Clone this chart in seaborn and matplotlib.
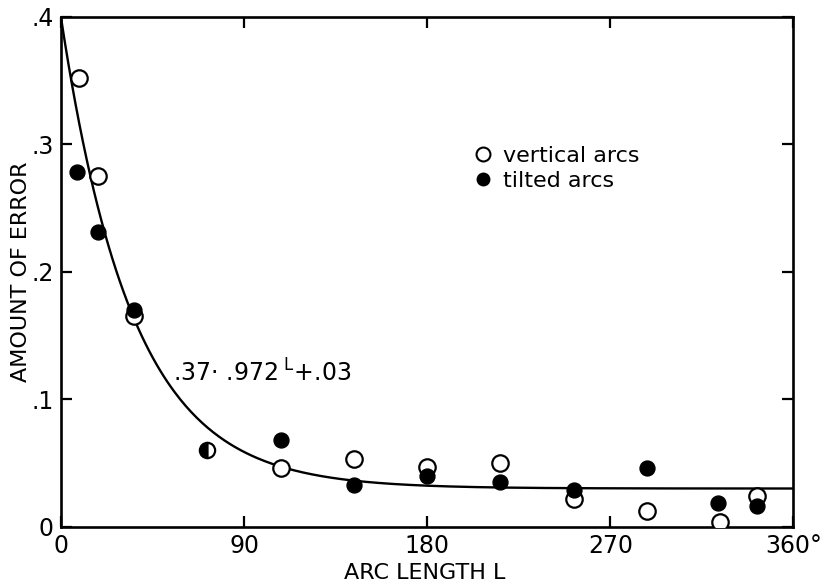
import numpy as np
import pandas as pd
import matplotlib
matplotlib.use("Agg")
import matplotlib.pyplot as plt
import seaborn as sns

# values
arc_vertical = [9, 18, 36, 72, 108, 144, 180, 216, 252, 288, 324, 342]
err_vertical = [.352, .275, .165, .060, .046, .053, .047, .050, .022, .0125, .004, .024]
arc_tilted = [8, 18, 36, 72, 108, 144, 180, 216, 252, 288, 323, 342]
err_tilted = [.278, .231, .170, .060, .068, .033, .040, .035, .029, .046, .019, .016]

x_ticks = [0, 90, 180, 270, 360]
x_labels = ["0", "90", "180", "270", "360°"]
y_ticks = [0, .1, .2, .3, .4]
y_labels = ["0", ".1", ".2", ".3", ".4"]

# fitted model shown on the chart: .37 * .972^L + .03
L = np.linspace(0, 360, 400)
fit = pd.DataFrame({"L": L, "err": .37 * .972 ** L + .03})

vert = pd.DataFrame({"L": arc_vertical, "err": err_vertical})
tilt = pd.DataFrame({"L": arc_tilted, "err": err_tilted})
# points where both series coincide are drawn half filled
both = vert.merge(tilt, on=["L", "err"])
vert_only = vert[~vert["L"].isin(both["L"]) | ~vert["err"].isin(both["err"])]
tilt_only = tilt[~tilt["L"].isin(both["L"]) | ~tilt["err"].isin(both["err"])]

sns.set_style("ticks", {"axes.edgecolor": "black", "text.color": "black",
                        "xtick.color": "black", "ytick.color": "black",
                        "axes.labelcolor": "black"})
plt.rcParams["font.family"] = ["DejaVu Sans"]

fig = plt.figure(figsize=(8.23, 5.84), dpi=100)
ax = fig.add_axes([0.074, 0.098, 0.89, 0.873])

sns.lineplot(data=fit, x="L", y="err", color="black", linewidth=1.7, ax=ax)
sns.scatterplot(data=vert_only, x="L", y="err", marker="o", s=140,
                facecolor="white", edgecolor="black", linewidth=1.6, ax=ax, zorder=3)
sns.scatterplot(data=tilt_only, x="L", y="err", marker="o", s=115,
                color="black", edgecolor="black", linewidth=1, ax=ax, zorder=4)
ax.plot(both["L"], both["err"], linestyle="none", marker="o", markersize=11,
        fillstyle="left", markerfacecolor="black", markerfacecoloralt="white",
        markeredgecolor="black", markeredgewidth=1.6, zorder=5)

ax.set_xlim(0, 360)
ax.set_ylim(0, .4)
ax.set_xticks(x_ticks)
ax.set_xticklabels(x_labels)
ax.set_yticks(y_ticks)
ax.set_yticklabels(y_labels)
ax.tick_params(direction="in", length=8, width=1.6, labelsize=17,
               top=True, right=True, pad=5)
for s in ax.spines.values():
    s.set_linewidth(1.9)
    s.set_color("black")

ax.set_xlabel("ARC LENGTH L", fontsize=16)
ax.set_ylabel("AMOUNT OF ERROR", fontsize=16)
ax.xaxis.set_label_coords(0.497, -0.071)
ax.yaxis.set_label_coords(-0.041, 0.5)

ax.text(55, .121, r".37$\cdot$ .972$^{\ \mathrm{L}}$+.03", fontsize=17,
        va="center", ha="left")

h_open = plt.Line2D([], [], linestyle="none", marker="o", markersize=10,
                    markerfacecolor="white", markeredgecolor="black", markeredgewidth=1.5)
h_fill = plt.Line2D([], [], linestyle="none", marker="o", markersize=9,
                    color="black")
ax.legend([h_open, h_fill], ["vertical arcs", "tilted arcs"], frameon=False,
          fontsize=16, loc="center left", bbox_to_anchor=(0.546, 0.703),
          handletextpad=0.3, labelspacing=0.2, borderaxespad=0, handlelength=1.2)

fig.savefig("out.png", dpi=100)
